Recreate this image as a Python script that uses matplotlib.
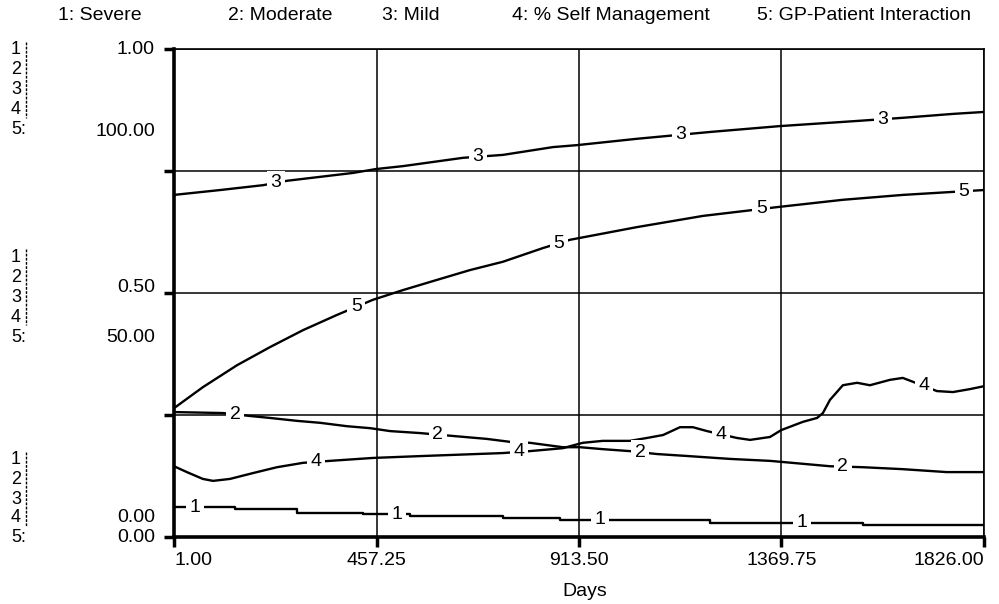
import numpy as np
import matplotlib.pyplot as plt

plt.rcParams['font.family'] = ['Liberation Sans', 'DejaVu Sans']

# legend / axis text
names = ['1: Severe', '2: Moderate', '3: Mild', '4: % Self Management', '5: GP-Patient Interaction']
x_ticks = [1.00, 457.25, 913.50, 1369.75, 1826.00]
x_ticklabels = ['1.00', '457.25', '913.50', '1369.75', '1826.00']
y_ticks = [0.0, 0.25, 0.5, 0.75, 1.0]

# 1: Severe (scale 0..1)
days_1 = [1, 138, 278, 427, 533, 742, 871, 1209, 1553, 1826]
severe = [0.061, 0.057, 0.049, 0.047, 0.043, 0.039, 0.035, 0.029, 0.025, 0.025]

# 2: Moderate (scale 0..1)
days_2 = [1, 111, 172, 217, 278, 330, 391, 443, 488, 555, 630, 706, 758, 803, 877, 916,
          967, 1028, 1089, 1157, 1254, 1344, 1418, 1479, 1553, 1643, 1742, 1826]
moderate = [0.256, 0.254, 0.248, 0.244, 0.238, 0.234, 0.227, 0.223, 0.217, 0.213, 0.207,
            0.201, 0.195, 0.193, 0.184, 0.184, 0.180, 0.176, 0.170, 0.166, 0.160, 0.156,
            0.150, 0.145, 0.143, 0.139, 0.133, 0.133]

# 3: Mild (scale 0..1)
days_3 = [1, 105, 202, 256, 404, 456, 517, 652, 742, 855, 909, 1044, 1209, 1366, 1531,
          1643, 1756, 1826]
mild = [0.701, 0.711, 0.721, 0.730, 0.746, 0.754, 0.760, 0.777, 0.783, 0.799, 0.803,
        0.816, 0.830, 0.842, 0.852, 0.859, 0.867, 0.871]

# 4: % Self Management (scale 0..1)
days_4 = [1, 30, 66, 89, 127, 179, 233, 292, 352, 449, 562, 742, 803, 877, 922, 967,
          1028, 1067, 1103, 1141, 1170, 1202, 1269, 1299, 1344, 1369, 1418, 1450, 1463,
          1479, 1508, 1540, 1569, 1614, 1643, 1666, 1720, 1756, 1794, 1826]
self_mgmt = [0.145, 0.133, 0.119, 0.115, 0.119, 0.131, 0.143, 0.152, 0.156, 0.162, 0.166,
             0.172, 0.176, 0.182, 0.193, 0.197, 0.197, 0.203, 0.209, 0.225, 0.225, 0.217,
             0.203, 0.199, 0.205, 0.219, 0.236, 0.244, 0.254, 0.281, 0.311, 0.316, 0.311,
             0.322, 0.326, 0.318, 0.299, 0.297, 0.303, 0.309]

# 5: GP-Patient Interaction (scale 0..100)
days_5 = [1, 66, 143, 217, 292, 368, 449, 517, 594, 668, 742, 832, 893, 1044, 1193, 1360,
          1508, 1643, 1826]
gp = [26.4, 30.7, 35.2, 38.9, 42.4, 45.5, 48.6, 50.6, 52.7, 54.7, 56.4, 59.2, 60.9, 63.5,
      65.8, 67.6, 69.1, 70.1, 71.1]

label_first = [48, 139, 230, 321, 412]
label_step = 456.25

W, H = 999, 604
fig = plt.figure(figsize=(W / 100, H / 100), dpi=100)
ax = fig.add_axes([174 / W, 1 - 537 / H, 810 / W, 488 / H])
ax.set_xlim(1, 1826)
ax.set_ylim(0, 1)
ax2 = ax.twinx()
ax2.set_ylim(0, 100)
ax2.set_axis_off()

ax.set_xticks(x_ticks)
ax.set_xticklabels(x_ticklabels, fontsize=14)
tl = ax.get_xticklabels()
tl[0].set_ha('left')
tl[-1].set_ha('right')
ax.set_yticks(y_ticks)
ax.tick_params(axis='y', length=7, width=2.5, labelleft=False)
ax.tick_params(axis='x', length=7, width=2.5, pad=4)
ax.grid(True, color='black', lw=1.1)
for s in ['left', 'bottom']:
    ax.spines[s].set_linewidth(2.6)
for s in ['top', 'right']:
    ax.spines[s].set_linewidth(1.2)

lw = 1.7
series = [
    (ax, days_1, severe, 'steps-post'),
    (ax, days_2, moderate, 'default'),
    (ax, days_3, mild, 'default'),
    (ax, days_4, self_mgmt, 'default'),
    (ax2, days_5, gp, 'default'),
]
for i, (a, d, v, ds) in enumerate(series):
    a.plot(d, v, color='black', lw=lw, drawstyle=ds, zorder=3)
    for j in range(4):
        xd = label_first[i] + j * label_step
        if ds == 'steps-post':
            k = np.searchsorted(d, xd, side='right') - 1
            yv = v[k]
        else:
            yv = np.interp(xd, d, v)
        a.text(xd, yv, str(i + 1), ha='center', va='center', fontsize=14, zorder=4,
               bbox=dict(facecolor='white', edgecolor='none', pad=2.5))

# value labels on the left of the plot
ylabels = [(1.0, '1.00', -1), (1.0, '100.00', -82),
           (0.5, '0.50', 6), (0.5, '50.00', -44),
           (0.0, '0.00', 19), (0.0, '0.00', 0)]
for yv, txt, dy in ylabels:
    ax.annotate(txt, xy=(0, yv), xycoords=('axes fraction', 'data'),
                xytext=(-19, dy), textcoords='offset pixels',
                ha='right', va='center', fontsize=14, annotation_clip=False)

# scale key column
for rows in ([50, 70, 90, 110, 130], [257, 277, 297, 317, 337], [460, 480, 499, 518, 538]):
    for n, yp in enumerate(rows):
        t = str(n + 1) if n < 4 else '5:'
        fig.text(11 / W, 1 - yp / H, t, ha='left', va='center', fontsize=13)
    fig.add_artist(plt.Line2D([26 / W, 26 / W], [1 - (rows[0] - 8) / H, 1 - (rows[3] + 8) / H],
                              color='black', lw=1, ls=(0, (2, 1))))

# legend
for name, xl in zip(names, [58, 228, 382, 512, 757]):
    fig.text(xl / W, 1 - 15 / H, name, ha='left', va='center', fontsize=14)

fig.text(585 / W, 1 - 591 / H, 'Days', ha='center', va='center', fontsize=14)

fig.savefig('out.png', dpi=100, facecolor='white')
